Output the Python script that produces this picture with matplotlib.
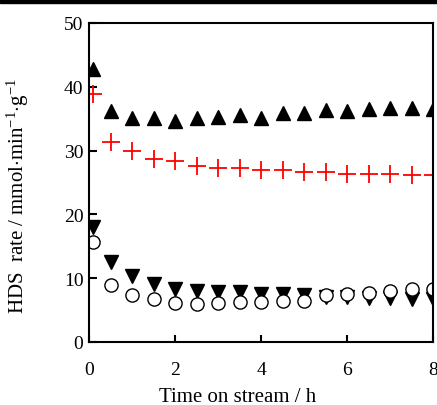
import numpy as np
import matplotlib.pyplot as plt
from matplotlib.patches import Rectangle

plt.rcParams['font.family'] = ['Liberation Serif', 'DejaVu Serif']
plt.rcParams['mathtext.fontset'] = 'custom'
plt.rcParams['mathtext.rm'] = 'Liberation Serif'
plt.rcParams['mathtext.it'] = 'Liberation Serif:italic'

# time on stream (h)
t = [0.1, 0.5, 1.0, 1.5, 2.0, 2.5, 3.0, 3.5, 4.0, 4.5, 5.0, 5.5, 6.0, 6.5, 7.0, 7.5, 8.0]

# HDS rates
up_tri = [42.8, 36.2, 35.1, 35.1, 34.6, 35.1, 35.3, 35.6, 35.1, 35.9, 35.9, 36.4, 36.2, 36.5, 36.7, 36.7, 36.5]
plus = [38.9, 31.3, 30.0, 28.7, 28.3, 27.6, 27.3, 27.3, 26.9, 26.9, 26.6, 26.6, 26.4, 26.4, 26.4, 26.1, 26.1]
down_tri = [18.0, 12.5, 10.4, 9.1, 8.3, 8.0, 7.8, 7.8, 7.6, 7.6, 7.4, 7.0, 7.0, 6.9, 6.9, 6.7, 6.7]
circle = [15.7, 8.9, 7.4, 6.7, 6.1, 6.0, 6.1, 6.3, 6.3, 6.4, 6.4, 7.4, 7.5, 7.7, 8.0, 8.3, 8.3]

fig = plt.figure(figsize=(4.37, 4.06), dpi=100)
ax = fig.add_axes([0.2037, 0.1552, 0.7872, 0.7857])

ax.plot(t, up_tri, '^', color='black', ms=10, ls='none')
ax.plot(t, plus, '+', color='red', ms=13, mew=1.3, ls='none')
ax.plot(t, down_tri, 'v', color='black', ms=10, ls='none')
ax.plot(t, circle, 'o', mfc='white', mec='black', mew=1.0, ms=9.5, ls='none')

ax.set_xlim(0, 8)
ax.set_ylim(0, 50)
ax.set_xticks([0, 2, 4, 6, 8])
ax.set_yticks([0, 10, 20, 30, 40, 50])
for s in ax.spines.values():
    s.set_linewidth(1.5)
ax.tick_params(axis='both', direction='in', labelsize=14, width=1.5, top=False, right=False)
ax.tick_params(axis='x', length=5, pad=14)
ax.tick_params(axis='y', length=6, pad=4)

ax.set_xlabel('Time on stream / h', fontsize=15)
ax.xaxis.set_label_coords(0.432, -0.14)
ax.set_ylabel('HDS  rate / mmol$\\cdot$min$^{-1}$$\\cdot$g$^{-1}$', fontsize=15)
ax.yaxis.set_label_coords(-0.168, 0.46)

fig.patches.append(Rectangle((0, 1 - 4 / 406), 1, 4 / 406, transform=fig.transFigure, color='black'))

plt.savefig('out.png', dpi=100)
